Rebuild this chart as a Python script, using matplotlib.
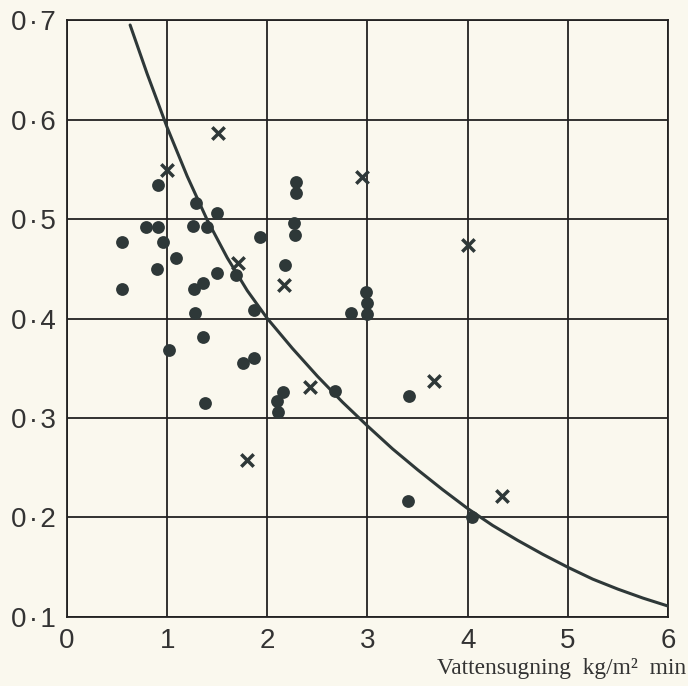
import matplotlib.pyplot as plt

# filled dots
dot_x = [0.55, 0.55, 0.79, 0.91, 0.91, 0.96, 0.90, 1.02, 1.09, 1.26,
         1.29, 1.27, 1.28, 1.36, 1.36, 1.38, 1.40, 1.50, 1.50, 1.69,
         1.76, 1.87, 1.87, 1.93, 2.10, 2.11, 2.16, 2.18, 2.27, 2.28,
         2.29, 2.29, 2.68, 2.84, 3.00, 3.00, 2.99, 3.41, 3.40, 4.04]
dot_y = [0.477, 0.430, 0.492, 0.492, 0.534, 0.477, 0.450, 0.368, 0.461, 0.493,
         0.516, 0.430, 0.406, 0.436, 0.381, 0.315, 0.492, 0.506, 0.446, 0.444,
         0.355, 0.360, 0.409, 0.482, 0.317, 0.306, 0.326, 0.454, 0.496, 0.484,
         0.526, 0.537, 0.327, 0.406, 0.405, 0.416, 0.427, 0.322, 0.217, 0.201]

# crosses
cross_x = [1.51, 1.00, 1.71, 2.17, 2.43, 1.80, 2.95, 4.00, 3.66, 4.34]
cross_y = [0.586, 0.549, 0.456, 0.434, 0.331, 0.258, 0.542, 0.474, 0.337, 0.222]

# fitted curve
curve_x = [0.63, 0.80, 1.00, 1.20, 1.40, 1.60, 1.80, 2.00, 2.25, 2.50,
           2.75, 3.00, 3.25, 3.50, 3.75, 4.00, 4.25, 4.50, 4.75, 5.00,
           5.25, 5.50, 5.75, 6.00]
curve_y = [0.695, 0.646, 0.592, 0.543, 0.499, 0.461, 0.428, 0.400, 0.370, 0.342,
           0.316, 0.292, 0.269, 0.248, 0.228, 0.209, 0.192, 0.177, 0.163, 0.150,
           0.138, 0.128, 0.119, 0.111]

xticks = [0, 1, 2, 3, 4, 5, 6]
yticks = [0.1, 0.2, 0.3, 0.4, 0.5, 0.6, 0.7]
ytick_labels = ['0\u200a\u00b7\u200a1', '0\u200a\u00b7\u200a2', '0\u200a\u00b7\u200a3',
                '0\u200a\u00b7\u200a4', '0\u200a\u00b7\u200a5', '0\u200a\u00b7\u200a6',
                '0\u200a\u00b7\u200a7']

bg = '#faf8ee'
ink = '#2e3838'

fig = plt.figure(figsize=(6.88, 6.86), dpi=100, facecolor=bg)
ax = fig.add_axes([0.0974, 0.1006, 0.8735, 0.8702], facecolor=bg)

ax.plot(curve_x, curve_y, color=ink, lw=2.2, zorder=3, solid_capstyle='round')
ax.scatter(dot_x, dot_y, s=85, color=ink, zorder=4, linewidths=0)
ax.scatter(cross_x, cross_y, s=80, marker='x', color=ink, linewidths=2.5, zorder=4)

ax.set_xlim(0, 6)
ax.set_ylim(0.1, 0.7)
ax.set_xticks(xticks)
ax.set_yticks(yticks)
ax.set_yticklabels(ytick_labels)
ax.grid(True, color='#222222', lw=1.3)
ax.set_axisbelow(True)
for s in ax.spines.values():
    s.set_color('#222222')
    s.set_linewidth(1.3)
ax.tick_params(length=0, labelsize=20, labelcolor='#333333', pad=8)
for lab in ax.get_xticklabels() + ax.get_yticklabels():
    lab.set_family(['Liberation Sans', 'DejaVu Sans'])

fig.text(0.997, 0.017, 'Vattensugning  kg/m\u00b2  min', ha='right', va='baseline',
         fontsize=16.8, family='Liberation Serif', color='#333333')

fig.savefig('out.png', dpi=100, facecolor=bg)
